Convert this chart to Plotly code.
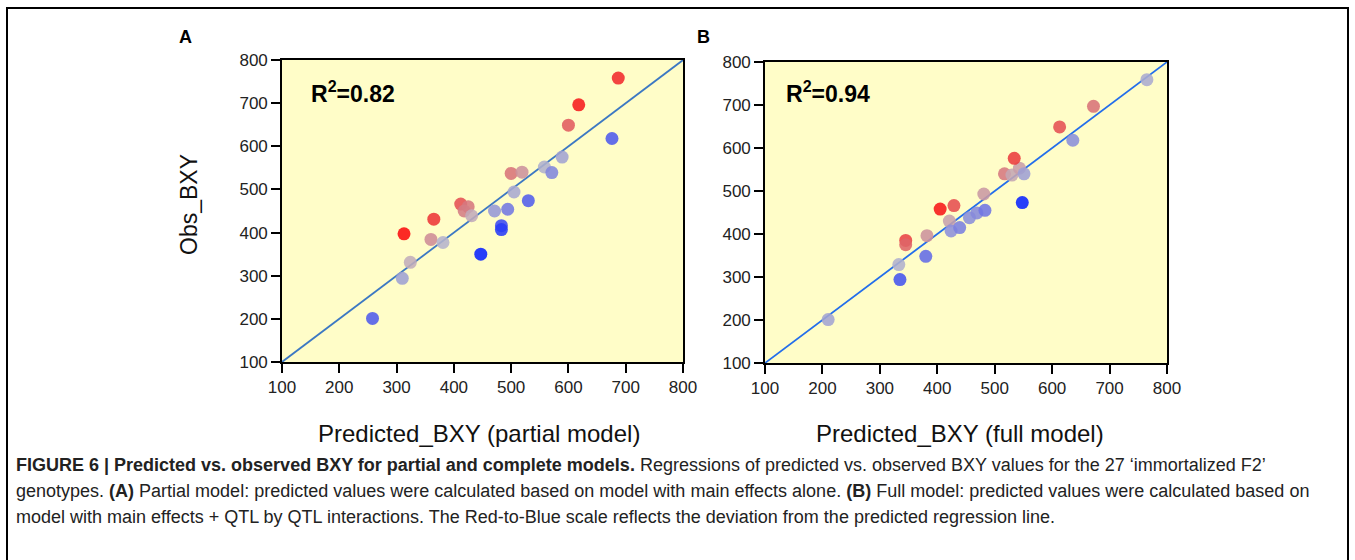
import plotly.graph_objects as go

W, H = 1355, 560

# ---------------- data ----------------
pred_partial = [258, 310, 324, 313, 360, 381, 365, 447, 412, 425, 418, 431, 471, 483,
                483, 494, 505, 530, 500, 519, 558, 571, 589, 600, 618, 676, 687]
obs_partial = [201, 294, 331, 397, 384, 377, 431, 350, 466, 460, 450, 439, 450, 416,
               407, 454, 494, 474, 537, 540, 552, 539, 575, 649, 696, 618, 758]

pred_full = [210, 333, 335, 345, 345, 380, 382, 405, 429, 421, 424, 439, 456, 469,
             483, 481, 517, 530, 543, 551, 534, 548, 613, 636, 672, 765]
obs_full = [201, 329, 294, 385, 375, 348, 396, 458, 466, 430, 407, 415, 438, 449,
            455, 493, 540, 537, 553, 540, 576, 473, 649, 618, 697, 759]

axis_range = [100, 800]
tick_vals = [100, 200, 300, 400, 500, 600, 700, 800]
r2_labels = ["R<sup>2</sup>=0.82", "R<sup>2</sup>=0.94"]
x_titles = ["Predicted_BXY (partial model)", "Predicted_BXY (full model)"]
y_title = "Obs_BXY"
panel_letters = ["A", "B"]
caption_lines = [
    "<b>FIGURE 6 | Predicted vs. observed BXY for partial and complete models.</b> "
    "Regressions of predicted vs. observed BXY values for the 27 \u2018immortalized F2\u2019",
    "genotypes. <b>(A)</b> Partial model: predicted values were calculated based on model "
    "with main effects alone. <b>(B)</b> Full model: predicted values were calculated based on",
    "model with main effects + QTL by QTL interactions. The Red-to-Blue scale reflects "
    "the deviation from the predicted regression line.",
]


def px(x):
    return x / W


def py(y):
    return 1 - y / H


# deviation from regression line drives the colour
dev_partial = [o - p for o, p in zip(obs_partial, pred_partial)]
dev_full = [o - p for o, p in zip(obs_full, pred_full)]

cscale = [[0, "rgb(10,35,255)"], [0.25, "rgb(105,112,228)"], [0.5, "rgb(188,186,202)"],
          [0.75, "rgb(222,100,104)"], [1, "rgb(255,0,0)"]]

fig = go.Figure()

# panel A
fig.add_trace(go.Scatter(x=axis_range, y=axis_range, mode="lines",
                         line=dict(color="rgb(60,120,195)", width=1.8),
                         xaxis="x", yaxis="y", hoverinfo="skip"))
fig.add_trace(go.Scatter(x=pred_partial, y=obs_partial, mode="markers",
                         marker=dict(size=13, color=dev_partial, colorscale=cscale,
                                     cmin=-90, cmax=90, opacity=0.88, line=dict(width=0)),
                         xaxis="x", yaxis="y"))
# panel B
fig.add_trace(go.Scatter(x=axis_range, y=axis_range, mode="lines",
                         line=dict(color="rgb(35,110,235)", width=1.8),
                         xaxis="x2", yaxis="y2", hoverinfo="skip"))
fig.add_trace(go.Scatter(x=pred_full, y=obs_full, mode="markers",
                         marker=dict(size=13, color=dev_full, colorscale=cscale,
                                     cmin=-60, cmax=60, opacity=0.88, line=dict(width=0)),
                         xaxis="x2", yaxis="y2"))

tickfont = dict(family="Liberation Sans, Arial, sans-serif", size=17, color="#222")
common = dict(range=axis_range, tickvals=tick_vals, showline=True, linecolor="black",
              linewidth=1.6, mirror=True, ticks="outside", ticklen=9, tickwidth=1.6,
              tickcolor="black", showgrid=False, zeroline=False, tickfont=tickfont,
              automargin=False)

fig.update_layout(
    width=W, height=H,
    margin=dict(l=0, r=0, t=0, b=0, autoexpand=False),
    paper_bgcolor="white",
    plot_bgcolor="#fffdc8",
    showlegend=False,
    xaxis=dict(domain=[px(282), px(683)], anchor="y", **common),
    yaxis=dict(domain=[py(362), py(60)], anchor="x", **common),
    xaxis2=dict(domain=[px(765), px(1167)], anchor="y2", **common),
    yaxis2=dict(domain=[py(363), py(62)], anchor="x2", **common),
)

ann = []
# panel letters
for lx, letter in zip([185, 703], panel_letters):
    ann.append(dict(x=px(lx), y=py(37), xref="paper", yref="paper", text="<b>%s</b>" % letter,
                    showarrow=False, xanchor="center", yanchor="middle",
                    font=dict(family="Liberation Sans, Arial", size=18, color="black")))
# R2 labels
for lx, txt in zip([309, 784], r2_labels):
    ann.append(dict(x=px(lx), y=py(92), xref="paper", yref="paper", text="<b>%s</b>" % txt,
                    showarrow=False, xanchor="left", yanchor="middle",
                    font=dict(family="Liberation Sans, Arial", size=23, color="black")))
# x titles
for cx, txt in zip([479, 960], x_titles):
    ann.append(dict(x=px(cx), y=py(433), xref="paper", yref="paper", text=txt,
                    showarrow=False, xanchor="center", yanchor="middle",
                    font=dict(family="Liberation Sans, Arial", size=24, color="#111")))
# y title
ann.append(dict(x=px(189), y=py(205), xref="paper", yref="paper", text=y_title,
                showarrow=False, xanchor="center", yanchor="middle", textangle=-90,
                font=dict(family="Liberation Sans, Arial", size=23, color="#111")))
# caption
for i, line in enumerate(caption_lines):
    ann.append(dict(x=px(14), y=py(465 + 26 * i), xref="paper", yref="paper", text=line,
                    showarrow=False, xanchor="left", yanchor="middle", align="left",
                    font=dict(family="Liberation Sans, Arial", size=18, color="#222")))
fig.update_layout(annotations=ann)

# outer frame
fig.add_shape(type="rect", xref="paper", yref="paper", x0=px(7), y0=py(575), x1=px(1348), y1=py(8),
              line=dict(color="black", width=2), fillcolor="rgba(0,0,0,0)", layer="above")

fig.write_html("out.html")
